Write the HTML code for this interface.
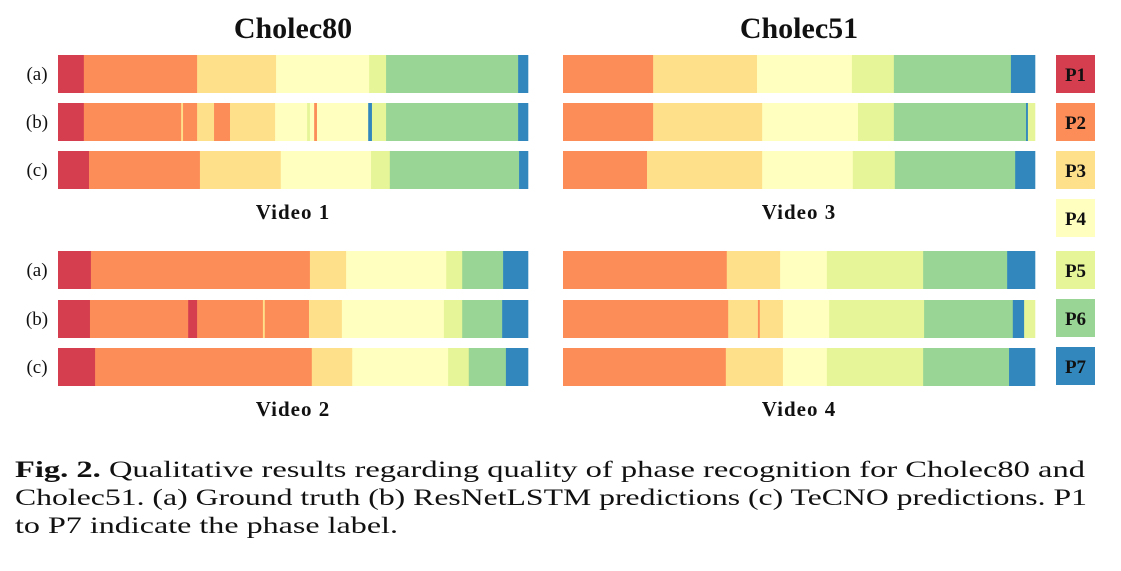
<!DOCTYPE html>
<html><head><meta charset="utf-8">
<style>
body{margin:0;background:#fff;width:1121px;height:571px;overflow:hidden;font-family:"Liberation Serif",serif;}
svg{position:absolute;left:0;top:0}
</style></head><body>
<svg id="chart" width="1121" height="571">
<text x="15" y="477" font-size="23" font-family="Liberation Serif, serif" fill="#111" textLength="1070" lengthAdjust="spacingAndGlyphs"><tspan font-weight="bold">Fig. 2.</tspan> Qualitative results regarding quality of phase recognition for Cholec80 and</text>
<text x="15" y="505" font-size="23" font-family="Liberation Serif, serif" fill="#111" textLength="1072" lengthAdjust="spacingAndGlyphs">Cholec51. (a) Ground truth (b) ResNetLSTM predictions (c) TeCNO predictions. P1</text>
<text x="15" y="533" font-size="23" font-family="Liberation Serif, serif" fill="#111" textLength="383" lengthAdjust="spacingAndGlyphs">to P7 indicate the phase label.</text>
</svg>
<script>
const phaseColors=["#d53e4f","#fc8d59","#fee08b","#ffffbf","#e6f598","#99d594","#3288bd"];
const phaseLabels=["P1","P2","P3","P4","P5","P6","P7"];
const videoNames=["Video 1","Video 2","Video 3","Video 4"];
const rowNames=["(a)","(b)","(c)"];
// each segment: [phase index (1-7), end position in % of video]
const v1a=[[1,5.5],[2,29.6],[3,46.4],[4,66.2],[5,69.8],[6,97.9],[7,100]];
const v1b=[[1,5.5],[2,26.2],[3,26.6],[2,29.6],[3,33.2],[2,36.6],[3,46.2],[4,53.0],[5,53.6],[4,54.5],[2,55.1],[4,66.0],[7,66.8],[5,69.8],[6,97.9],[7,100]];
const v1c=[[1,6.6],[2,30.2],[3,47.4],[4,66.6],[5,70.6],[6,98.1],[7,100]];
const v2a=[[1,7.0],[2,53.6],[3,61.3],[4,82.6],[5,86.0],[6,94.7],[7,100]];
const v2b=[[1,6.8],[2,27.7],[1,29.6],[2,43.6],[3,44.0],[2,53.4],[3,60.4],[4,82.1],[5,86.0],[6,94.5],[7,100]];
const v2c=[[1,7.9],[2,54.0],[3,62.6],[4,83.0],[5,87.4],[6,95.3],[7,100]];
const v3a=[[2,19.1],[3,41.1],[4,61.2],[5,70.1],[6,94.9],[7,100]];
const v3b=[[2,19.1],[3,42.2],[4,62.5],[5,70.1],[6,98.1],[7,98.5],[5,100]];
const v3c=[[2,17.8],[3,42.2],[4,61.4],[5,70.3],[6,95.8],[7,100]];
const v4a=[[2,34.7],[3,46.0],[4,55.9],[5,76.3],[6,94.1],[7,100]];
const v4b=[[2,35.0],[3,41.3],[2,41.7],[3,46.6],[4,56.4],[5,76.5],[6,95.3],[7,97.7],[5,100]];
const v4c=[[2,34.5],[3,46.6],[4,55.9],[5,76.3],[6,94.5],[7,100]];
const videos=[[v1a,v1b,v1c],[v2a,v2b,v2c],[v3a,v3b,v3c],[v4a,v4b,v4c]];

const NS="http://www.w3.org/2000/svg";
const svg=document.getElementById("chart");
function mk(tag,attrs,parent){const e=document.createElementNS(NS,tag);for(const k in attrs)e.setAttribute(k,attrs[k]);(parent||svg).appendChild(e);return e;}
const panelX=[[58,470],[58,470],[563,472],[563,472]];
const groupY=[[55,103,151],[251,300,348],[55,103,151],[251,300,348]];
const rowH=38;
function xScale(v,p){return panelX[p][0]+v/100*panelX[p][1];}

let t=mk("text",{x:293,y:38,"text-anchor":"middle","font-size":30,"font-weight":"bold","font-family":"Liberation Serif, serif",fill:"#111"});t.textContent="Cholec80";


t=mk("text",{x:799,y:38,"text-anchor":"middle","font-size":30,"font-weight":"bold","font-family":"Liberation Serif, serif",fill:"#111"});t.textContent="Cholec51";



videos.forEach((rows,vi)=>{
  rows.forEach((segs,ri)=>{
    const y=groupY[vi][ri];
    let start=0;
    segs.forEach(([ph,end])=>{
      const r=mk("rect",{x:xScale(start,vi),y:y,width:Math.max(0.5,xScale(end,vi)-xScale(start,vi))+0.3,height:rowH,fill:phaseColors[ph-1]});
      
      
      start=end;
    });
    if(vi<2){
      const l=mk("text",{x:37,y:y+25,"text-anchor":"middle","font-size":19,"font-family":"Liberation Serif, serif",fill:"#111"});
      l.textContent=rowNames[ri];
      
      
    }
  });
  const cx=panelX[vi][0]+panelX[vi][1]/2;
  const vy=groupY[vi][2]+rowH+30;
  const vt=mk("text",{x:cx,y:vy,"text-anchor":"middle","font-size":21,"font-weight":"bold","font-family":"Liberation Serif, serif",fill:"#111","letter-spacing":"1"});
  vt.textContent=videoNames[vi];
  
  
});

const legendY=[55,103,151,199,251,299,347];
phaseLabels.forEach((lab,i)=>{
  const r=mk("rect",{x:1056,y:legendY[i],width:39,height:38,fill:phaseColors[i]});
  
  
  const tx=mk("text",{x:1075.5,y:legendY[i]+26,"text-anchor":"middle","font-size":19,"font-weight":"bold","font-family":"Liberation Serif, serif",fill:"#111"});
  tx.textContent=lab;
  
  
});
</script>
</body></html>
